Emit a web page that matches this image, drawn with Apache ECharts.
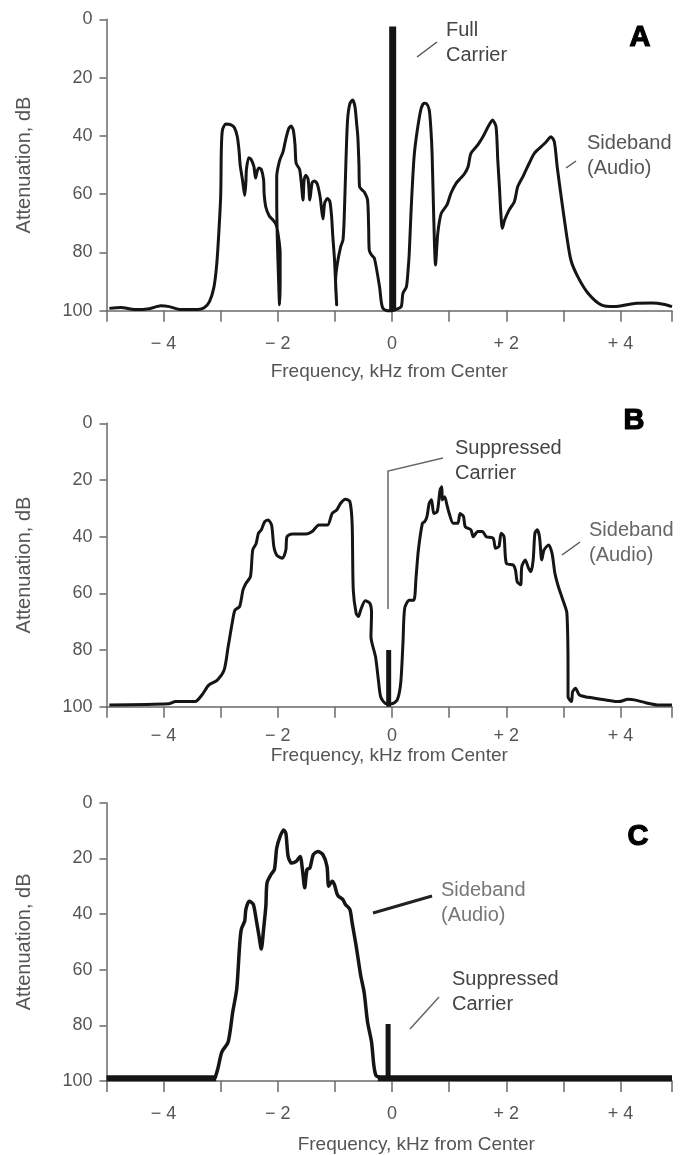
<!DOCTYPE html>
<html>
<head>
<meta charset="utf-8">
<script src="https://cdn.jsdelivr.net/npm/echarts@6/dist/echarts.min.js"></script>
<style>
  html, body { margin: 0; padding: 0; background: #fff; }
  #chart { width: 692px; height: 1155px; }
</style>
</head>
<body>
<div id="chart"></div>
<script>
// Tick labels
const freqTicks = [-4, -2, 0, 2, 4];
const attTicks = [0, 20, 40, 60, 80, 100];

// Panel A: full-carrier AM spectrum (kHz from center, attenuation dB)
const aFreq = [-4.95, -4.75, -4.5, -4.25, -4.05, -3.9, -3.7, -3.4, -3.29, -3.2, -3.12, -3.07, -3.03, -3.0, -2.99, -2.97, -2.91, -2.82, -2.76, -2.71, -2.68, -2.66, -2.62, -2.58, -2.56, -2.55, -2.51, -2.47, -2.42, -2.39, -2.36, -2.33, -2.29, -2.25, -2.24, -2.21, -2.15, -2.08, -2.03, -1.99, -1.96, -1.96, -1.97,
  -1.99, -2.01, -2.02, -2.02, -1.97, -1.91, -1.86, -1.81, -1.77, -1.73, -1.70, -1.68, -1.62, -1.59, -1.56, -1.54, -1.51, -1.47, -1.44, -1.40, -1.36, -1.31, -1.26, -1.23, -1.21, -1.18, -1.13, -1.09, -1.06, -1.04, -1.01, -0.99, -0.97,
  -0.99, -0.96, -0.90, -0.86, -0.84, -0.81, -0.78, -0.74, -0.69, -0.65, -0.62, -0.60, -0.58, -0.57, -0.53, -0.49, -0.43, -0.41, -0.40, -0.36, -0.31, -0.22, -0.19, -0.16, -0.08, 0.0, 0.08, 0.16, 0.19, 0.25, 0.28, 0.30, 0.33, 0.36, 0.39, 0.45, 0.51, 0.56, 0.60, 0.65, 0.68, 0.70, 0.73, 0.76, 0.80, 0.86, 0.96, 1.03, 1.12, 1.20, 1.27, 1.33, 1.38, 1.50, 1.59, 1.68, 1.76, 1.82, 1.85, 1.88, 1.90, 1.93, 1.97, 2.05, 2.14, 2.20, 2.29, 2.40, 2.49, 2.61, 2.70, 2.78, 2.84, 2.89, 2.96, 3.05, 3.13, 3.25, 3.43, 3.66, 3.89, 4.24, 4.55, 4.75, 4.9];
const aAtt = [99.2, 98.9, 99.6, 99.3, 98.3, 98.6, 99.6, 99.6, 99.0, 97, 92, 84, 72, 60, 45, 38, 35.9, 36.2, 37.2, 40.3, 45, 50, 55, 60.5, 56, 51.5, 47.5, 48, 50.5, 54.5, 52, 51, 51.5, 55, 60, 64.5, 67.5, 69, 70.5, 74.5, 80, 90, 98,
  88, 75, 62, 54, 48.5, 45.5, 41, 37.5, 36.6, 38, 43, 49.4, 51.5, 56, 62, 55, 53.5, 55, 62, 56, 55.5, 56.5, 61, 66, 68.5, 63, 61.5, 62.5, 67.5, 74, 82, 90, 98,
  90, 84, 78, 75.7, 68.9, 50, 34.6, 29, 27.7, 30, 36, 40.3, 50, 57.4, 58.5, 59.2, 62, 72, 79.2, 80.9, 82, 91.8, 96.9, 99.2, 100, 100, 99.5, 98.6, 94, 91.8, 86, 80.3, 66.6, 55, 46, 36.9, 30.5, 28.8, 28.9, 31.1, 38, 46, 68.9, 84.3, 73.4, 66.6, 63.7, 59.7, 56.3, 54.5, 52.9, 50.6, 46, 43.1, 40.3, 36.9, 34.6, 36.9, 48.3, 58, 65.4, 71.7, 68.9, 65.4, 62.6, 57.4, 54, 49.4, 46, 43.7, 42, 40.3, 42, 50.6, 60.9, 73.4, 82.6, 88.3, 94, 98, 98.6, 97.5, 97.4, 97.8, 98.6];
const aCarrierFreq = [0.01, 0.01];
const aCarrierAtt = [100, 2.5];

// Panel B: double sideband, suppressed carrier
const bFreq = [-4.95, -3.91, -3.79, -3.45, -3.33, -3.21, -3.06, -2.94, -2.87, -2.79, -2.75, -2.67, -2.61, -2.56, -2.48, -2.44, -2.38, -2.34, -2.29, -2.23, -2.17, -2.11, -2.07, -2.02, -1.92, -1.86, -1.84, -1.75, -1.51, -1.40, -1.28, -1.13, -1.05, -0.97, -0.90, -0.82, -0.74, -0.70, -0.68, -0.63, -0.59, -0.55, -0.47, -0.39, -0.36, -0.37, -0.29, -0.24, -0.20, -0.12, -0.01, 0.09, 0.15, 0.19, 0.22, 0.30, 0.38, 0.42, 0.46, 0.53, 0.57, 0.61, 0.65, 0.69, 0.73, 0.79, 0.84, 0.87, 0.88, 0.92, 0.96, 1.0, 1.07, 1.15, 1.19, 1.25, 1.28, 1.38, 1.42, 1.50, 1.58, 1.65, 1.77, 1.81, 1.87, 1.91, 1.96, 2.0, 2.12, 2.16, 2.19, 2.25, 2.27, 2.33, 2.39, 2.43, 2.47, 2.50, 2.54, 2.58, 2.62, 2.66, 2.74, 2.80, 2.85, 2.91, 2.97, 3.01, 3.06, 3.08, 3.08, 3.14, 3.16, 3.21, 3.28, 3.43, 3.74, 3.97, 4.13, 4.24, 4.44, 4.67, 4.9];
const bAtt = [99.4, 99, 98.2, 98.2, 95.9, 92.4, 90.6, 87, 78.8, 69.4, 65.9, 64.7, 58.8, 56.5, 54.1, 44.7, 42.4, 38.8, 37.6, 34.7, 34.1, 35.9, 43.5, 46.5, 47.6, 44.7, 40, 39.1, 39.1, 38.2, 35.9, 35.9, 31.8, 30.6, 28.2, 26.8, 27.6, 35.3, 58.8, 67, 68.2, 65.9, 62.6, 63.5, 67, 75.3, 82.4, 90.6, 96.5, 98.8, 99, 97.6, 91.8, 77.6, 65.3, 62.4, 62.4, 54.1, 44.7, 35.3, 34.7, 32.9, 28.2, 27, 31.8, 31.2, 23.5, 22.4, 27, 25.9, 28.8, 31.8, 35.3, 35.3, 31.8, 32.9, 36.5, 37.6, 40, 38.2, 38.2, 40, 40.6, 44.1, 43.5, 38.8, 40, 49.4, 50, 51.8, 55.9, 57, 50.6, 48.2, 51.2, 52.4, 48.2, 38.8, 37.6, 40, 48.2, 44.7, 42.9, 45.9, 52.9, 57.6, 61.2, 63.5, 67, 88.2, 96.5, 98.2, 94.7, 93.5, 95.9, 96.7, 97.6, 98.2, 97.4, 97.6, 98.6, 99.4, 99.4];
const bCarrierFreq = [-0.06, -0.06];
const bCarrierAtt = [100, 80];

// Panel C: single (lower) sideband, suppressed carrier
const cFreq = [-3.10, -3.05, -2.98, -2.87, -2.79, -2.72, -2.67, -2.64, -2.58, -2.56, -2.50, -2.43, -2.38, -2.33, -2.29, -2.25, -2.21, -2.19, -2.12, -2.06, -2.02, -1.96, -1.90, -1.86, -1.82, -1.76, -1.68, -1.61, -1.57, -1.53, -1.49, -1.44, -1.38, -1.30, -1.21, -1.14, -1.11, -1.05, -1.01, -0.97, -0.94, -0.86, -0.82, -0.74, -0.70, -0.63, -0.55, -0.49, -0.43, -0.36, -0.32, -0.28, -0.20];
const cAtt = [99, 95.5, 89.5, 86, 75.2, 66.9, 51.4, 45.5, 42.5, 38.3, 35.4, 36.5, 41.9, 47.9, 52.6, 45.5, 37.1, 28.8, 25.8, 24, 16.3, 12.1, 9.8, 11, 19.3, 21.7, 21.1, 19.3, 24, 30.6, 24, 23.5, 18.7, 17.5, 18.7, 22.9, 30, 28.2, 29.4, 32.4, 33.6, 34.8, 36.5, 38.3, 43.1, 51.4, 62.1, 68.1, 78.8, 86, 94.3, 98.1, 98.8];
const cFloorLeftFreq = [-5, -3.08];
const cFloorRightFreq = [-0.25, 4.9];
const cFloorAtt = [99, 99];
const cCarrierFreq = [-0.07, -0.07];
const cCarrierAtt = [99, 79.5];

const pairs = (xs, ys) => xs.map((x, i) => [x, ys[i]]);

const FONT = '"Liberation Sans", Arial, Helvetica, sans-serif';
const TEXT = '#555';
const AXIS = '#6a6a6a';
const INK = '#151515';

const panels = [
  { top: 19.3, height: 291.4, labelMargin: 24, nameGap: 52, namePad: [0, 0, 0, 0] },
  { top: 423.3, height: 283.4, labelMargin: 20, nameGap: 40, namePad: [0, 0, 0, 0] },
  { top: 802.7, height: 279.3, labelMargin: 24, nameGap: 54, namePad: [0, 0, 0, 54] }
];

const fmtFreq = v => {
  const r = Math.round(v * 10) / 10;
  if (!freqTicks.includes(r)) return '';
  if (r === 0) return '0';
  return (r < 0 ? '\u2212 ' : '+ ') + Math.abs(r);
};

const grid = panels.map(p => ({ left: 106.5, width: 565.5, top: p.top, height: p.height }));

const xAxis = panels.map((p, i) => ({
  type: 'value', gridIndex: i, min: -5, max: 4.9, interval: 1,
  name: 'Frequency, kHz from Center', nameLocation: 'middle', nameGap: p.nameGap,
  nameTextStyle: { fontFamily: FONT, fontSize: 19, color: TEXT, padding: p.namePad },
  axisLine: { onZero: false, lineStyle: { color: AXIS, width: 1.5 } },
  axisTick: { show: true, length: 11, lineStyle: { color: AXIS, width: 1.5 } },
  axisLabel: { interval: 0, margin: p.labelMargin, fontFamily: FONT, fontSize: 18, color: TEXT, formatter: fmtFreq, showMinLabel: true, showMaxLabel: true },
  splitLine: { show: false }
}));

const yAxis = panels.map((p, i) => ({
  type: 'value', gridIndex: i, min: 0, max: 100, interval: 20, inverse: true,
  position: 'left',
  name: 'Attenuation, dB', nameLocation: 'middle', nameGap: 72, nameRotate: 90,
  nameTextStyle: { fontFamily: FONT, fontSize: 20, color: TEXT },
  axisLine: { show: true, onZero: false, lineStyle: { color: AXIS, width: 1.5 } },
  axisTick: { show: true, length: 7, lineStyle: { color: AXIS, width: 1.5 } },
  axisLabel: { margin: 14, fontFamily: FONT, fontSize: 18, color: TEXT,
    formatter: v => attTicks.includes(v) ? String(v) : '' },
  splitLine: { show: false }
}));

const lineSeries = (i, data, width, smooth) => ({
  type: 'line', xAxisIndex: i, yAxisIndex: i, data, symbol: 'none', clip: false,
  smooth: smooth, lineStyle: { color: INK, width: width, cap: 'butt', join: 'round' },
  silent: true, animation: false
});

const series = [
  lineSeries(0, pairs(aFreq, aAtt), 3, 0.25),
  lineSeries(0, pairs(aCarrierFreq, aCarrierAtt), 7, false),
  lineSeries(1, pairs(bFreq, bAtt), 3, 0.25),
  lineSeries(1, pairs(bCarrierFreq, bCarrierAtt), 5, false),
  lineSeries(2, pairs(cFreq, cAtt), 3.5, 0.25),
  lineSeries(2, pairs(cFloorLeftFreq, cFloorAtt), 6, false),
  lineSeries(2, pairs(cFloorRightFreq, cFloorAtt), 6, false),
  lineSeries(2, pairs(cCarrierFreq, cCarrierAtt), 5, false)
];

const note = (x, y, text, color, size) => ({
  type: 'text', x: x, y: y, silent: true,
  style: { text: text, fontFamily: FONT, fontSize: size || 20, fill: color || TEXT, lineHeight: 25, verticalAlign: 'middle', align: 'left' }
});
const panelLetter = (x, y, text) => ({
  type: 'text', x: x, y: y, silent: true,
  style: { text: text, fontFamily: FONT, fontWeight: 'bold', fontSize: 29, fill: '#000', stroke: '#000', lineWidth: 1.2, align: 'center', verticalAlign: 'middle' }
});
const leader = (pts, color, width) => ({
  type: 'polyline', silent: true, shape: { points: pts },
  style: { stroke: color, lineWidth: width, fill: null }
});

const graphic = [
  // A
  panelLetter(640, 38, 'A'),
  note(446, 43, 'Full\nCarrier', '#444'),
  leader([[417, 57], [437, 42]], '#555', 1.5),
  note(587, 156, 'Sideband\n(Audio)', '#555'),
  leader([[566, 168], [576, 161]], '#555', 1.5),
  // B
  panelLetter(634, 421, 'B'),
  note(455, 461, 'Suppressed\nCarrier', '#444'),
  leader([[443, 458], [388, 471], [388, 609]], '#666', 1.5),
  note(589, 543, 'Sideband\n(Audio)', '#666'),
  leader([[562, 555], [580, 542]], '#555', 1.5),
  // C
  panelLetter(638, 837, 'C'),
  note(441, 903, 'Sideband\n(Audio)', '#777'),
  leader([[373, 913], [432, 896]], '#222', 3),
  note(452, 992, 'Suppressed\nCarrier', '#444'),
  leader([[410, 1029], [439, 997]], '#666', 1.5)
];

const chart = echarts.init(document.getElementById('chart'), null, { renderer: 'canvas' });
chart.setOption({
  animation: false,
  backgroundColor: '#fff',
  grid, xAxis, yAxis, series, graphic
});
</script>
</body>
</html>
